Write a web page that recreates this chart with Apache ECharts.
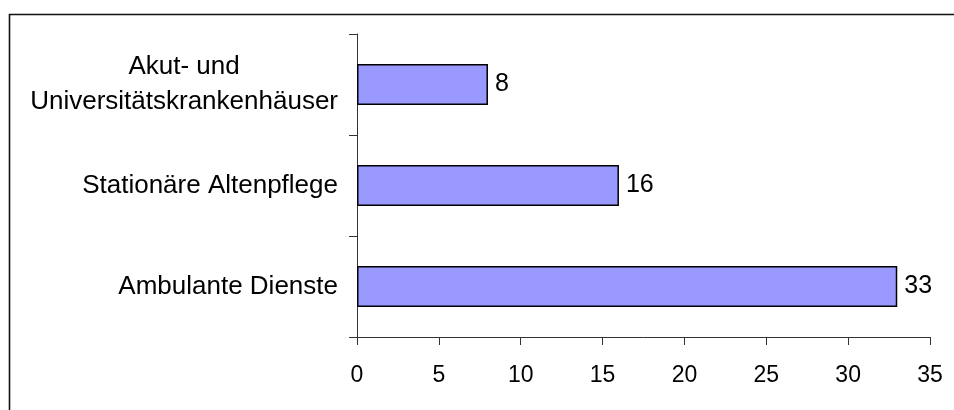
<!DOCTYPE html>
<html>
<head>
<meta charset="utf-8">
<script src="https://cdn.jsdelivr.net/npm/echarts@6/dist/echarts.min.js"></script>
<style>
  html, body { margin: 0; padding: 0; background: #fff; }
  #chart { width: 954px; height: 410px; }
</style>
</head>
<body>
<div id="chart"></div>
<script>
// Categories listed bottom-to-top, as the category axis draws them
const categories = ['Ambulante Dienste', 'Stationäre Altenpflege', 'Akut- und\nUniversitätskrankenhäuser'];
const values = [33, 16, 8];
const xTicks = { min: 0, max: 35, interval: 5 };

const FONT = 'Liberation Sans, Arial, sans-serif';

const chart = echarts.init(document.getElementById('chart'), null, { renderer: 'canvas' });

chart.setOption({
  animation: false,
  backgroundColor: '#fff',
  graphic: [{
    type: 'rect',
    silent: true,
    shape: { x: 9.5, y: 14.5, width: 1200, height: 600 },
    style: { fill: 'none', stroke: '#111', lineWidth: 1.6 }
  }],
  grid: { left: 357, right: 24, top: 34, bottom: 73, containLabel: false },
  xAxis: {
    type: 'value',
    min: xTicks.min,
    max: xTicks.max,
    interval: xTicks.interval,
    splitLine: { show: false },
    axisLine: { show: true, lineStyle: { color: '#333', width: 1 } },
    axisTick: { show: true, length: 8, lineStyle: { color: '#333', width: 1 } },
    axisLabel: { margin: 27, color: '#000', fontSize: 23, fontFamily: FONT }
  },
  yAxis: {
    type: 'category',
    data: categories,
    axisLine: { show: true, lineStyle: { color: '#333', width: 1 } },
    axisTick: { show: true, length: 8, lineStyle: { color: '#333', width: 1 } },
    axisLabel: {
      margin: 19,
      color: '#000',
      fontSize: 26,
      fontFamily: FONT,
      lineHeight: 35,
      formatter: v => v.split('\n').map(s => '{c|' + s + '}').join('\n'),
      rich: { c: { align: 'center', fontSize: 26, fontFamily: FONT, lineHeight: 35, color: '#000' } }
    }
  },
  series: [{
    type: 'bar',
    data: values,
    barWidth: 41,
    itemStyle: { color: '#9999FF', borderColor: '#000', borderWidth: 1.5 },
    label: {
      show: true,
      position: 'right',
      distance: 7,
      color: '#000',
      fontSize: 25,
      fontFamily: FONT
    }
  }]
});
</script>
</body>
</html>
